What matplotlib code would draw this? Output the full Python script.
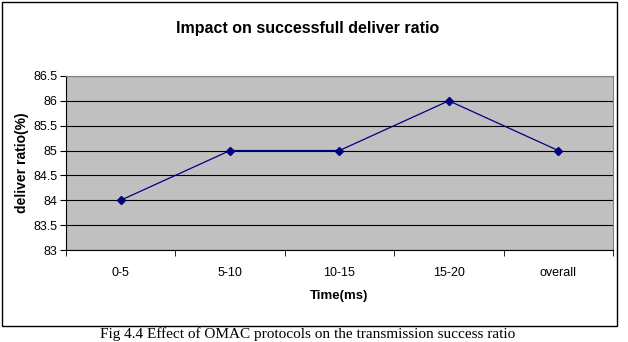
import matplotlib.pyplot as plt
from matplotlib.patches import Rectangle

categories = ['0-5', '5-10', '10-15', '15-20', 'overall']
ratio = [84, 85, 85, 86, 85]
yticks = [83, 83.5, 84, 84.5, 85, 85.5, 86, 86.5]

plt.rcParams['font.family'] = ['Liberation Sans', 'DejaVu Sans']

fig = plt.figure(figsize=(6.28, 3.42), dpi=100)
ax = fig.add_axes([0.105, 0.269, 0.871, 0.509])

# outer chart frame
fig.patches.append(Rectangle((0.003, 0.047), 0.979, 0.947, transform=fig.transFigure,
                             fill=False, edgecolor='black', linewidth=1.0))

ax.set_facecolor('#c0c0c0')
x = list(range(len(categories)))
ax.plot(x, ratio, color='#000080', linewidth=0.9, marker='D', markersize=4)

ax.set_xlim(-0.5, len(categories) - 0.5)
ax.set_ylim(83, 86.5)
ax.set_yticks(yticks)
ax.set_yticklabels(['83', '83.5', '84', '84.5', '85', '85.5', '86', '86.5'], fontsize=9)
ax.set_xticks(x)
ax.set_xticklabels(categories, fontsize=9)
ax.set_xticks([i - 0.5 for i in range(len(categories) + 1)], minor=True)
ax.tick_params(axis='x', which='major', length=0, pad=12)
ax.tick_params(axis='x', which='minor', length=4, direction='out')
ax.tick_params(axis='y', length=4, direction='out', pad=2)
ax.grid(axis='y', color='black', linewidth=0.8)
ax.set_axisbelow(True)
for s in ['top', 'right']:
    ax.spines[s].set_color('#808080')
ax.spines['left'].set_color('black')
ax.spines['bottom'].set_color('black')

ax.set_xlabel('Time(ms)', fontsize=9.5, fontweight='bold', labelpad=8)
ax.set_ylabel('deliver ratio(%)', fontsize=10, fontweight='bold', labelpad=3)
fig.text(0.49, 0.918, 'Impact on successfull deliver ratio', ha='center', va='center',
         fontsize=11.5, fontweight='bold')

fig.text(0.49, 0.022, 'Fig 4.4 Effect of OMAC protocols on the transmission success ratio',
         ha='center', va='center', fontsize=11, family=['Liberation Serif', 'DejaVu Serif'])

fig.savefig('out.png', dpi=100)
